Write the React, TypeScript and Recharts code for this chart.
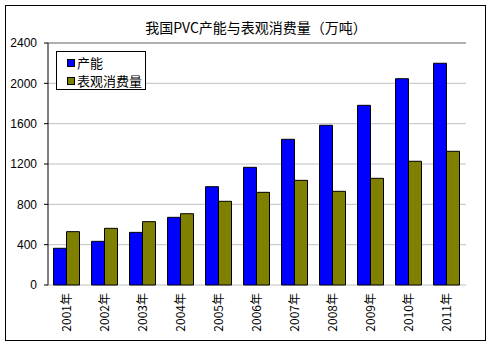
import React from "react";
import {Bar, BarChart, CartesianGrid, Legend, ReferenceLine, XAxis, YAxis} from "recharts";

const years = ["2001年", "2002年", "2003年", "2004年", "2005年", "2006年", "2007年", "2008年", "2009年", "2010年", "2011年"]
const capacity = [364, 433, 522, 671, 975, 1167, 1445, 1584, 1782, 2046, 2199]
const consumption = [529, 562, 628, 707, 830, 919, 1038, 929, 1058, 1227, 1326]
const yTicks = [0, 400, 800, 1200, 1600, 2000, 2400]
const boundaryTicks = [0, 1, 2, 3, 4, 5, 6, 7, 8, 9, 10, 11]

const data = years.map((year, i) => ({year, capacity: capacity[i], consumption: consumption[i]}))

const series = [
  {key: "capacity", name: "产能", color: "#0000FF"},
  {key: "consumption", name: "表观消费量", color: "#808000"},
]

const cjk = '"Noto Sans CJK SC", "Liberation Sans", sans-serif'
const num = '"Liberation Sans", Arial, sans-serif'

//  year label, rotated so it reads bottom to top
function YearTick({x, y, payload}: any) {
  return (
    <g transform={`translate(${x},${y + 8})`}>
      <text transform="rotate(-90)" textAnchor="end" dy="0.35em" fontSize={12} fontFamily={cjk} fill="#000">
        {payload.value}
      </text>
    </g>
  )
}

function LegendBox() {
  return (
    <div style={{
      width: 90, height: 39, border: "1px solid #000", background: "#fff", boxSizing: "border-box",
      padding: "3px 0 0 10px", fontFamily: cjk, fontSize: 13, lineHeight: "20px", color: "#000"
    }}>
      {series.map(s => (
        <div key={s.key} style={{display: "flex", alignItems: "center", height: 20, marginTop: -2}}>
          <span style={{width: 6, height: 6, border: "1px solid #000", background: s.color, marginRight: 2}}/>
          <span>{s.name}</span>
        </div>
      ))}
    </div>
  )
}

export default function App() {
  return (
    <div style={{position: "fixed", left: 0, top: 0, width: 492, height: 348, background: "#fff"}}>
      <BarChart
        width={492}
        height={348}
        data={data}
        margin={{top: 43, right: 26, bottom: 0, left: 0}}
        barCategoryGap="14.5%"
        barGap={0}
      >
        <CartesianGrid horizontal vertical={false} stroke="#C0C0C0"/>
        <XAxis
          xAxisId="b"
          type="number"
          domain={[0, 11]}
          ticks={boundaryTicks}
          height={0}
          tick={false}
          tickSize={4}
          tickLine={{stroke: "#000"}}
          axisLine={{stroke: "#000"}}
          allowDataOverflow
        />
        <XAxis
          dataKey="year"
          height={63}
          interval={0}
          tick={<YearTick/>}
          tickLine={false}
          axisLine={false}
          tickSize={0}
          tickMargin={0}
        />
        <YAxis
          width={48}
          domain={[0, 2400]}
          ticks={yTicks}
          interval={0}
          tickSize={4}
          tickMargin={7}
          tick={{fontSize: 12, fontFamily: num, fill: "#000"}}
          tickLine={{stroke: "#000"}}
          axisLine={{stroke: "#000"}}
        />
        <YAxis
          yAxisId="r"
          orientation="right"
          width={0}
          domain={[0, 2400]}
          tick={false}
          tickLine={false}
          axisLine={{stroke: "#808080"}}
        />
        <ReferenceLine y={2400} stroke="#808080"/>
        <Legend
          layout="vertical"
          align="center"
          verticalAlign="middle"
          content={<LegendBox/>}
          wrapperStyle={{left: 56, top: 51, width: 90}}
        />
        {series.map(s => (
          <Bar
            key={s.key}
            dataKey={s.key}
            name={s.name}
            fill={s.color}
            stroke="#000"
            strokeWidth={1}
            isAnimationActive={false}
          />
        ))}
      </BarChart>
      <div style={{
        position: "absolute", left: 56, top: 19, width: 400, textAlign: "center",
        fontFamily: cjk, fontSize: 14, lineHeight: "16px", color: "#000"
      }}>
        我国PVC产能与表观消费量（万吨）
      </div>
      <div style={{
        position: "absolute", left: 5, top: 5, width: 481, height: 336,
        border: "1px solid #000", boxSizing: "border-box", pointerEvents: "none"
      }}/>
    </div>
  )
}
